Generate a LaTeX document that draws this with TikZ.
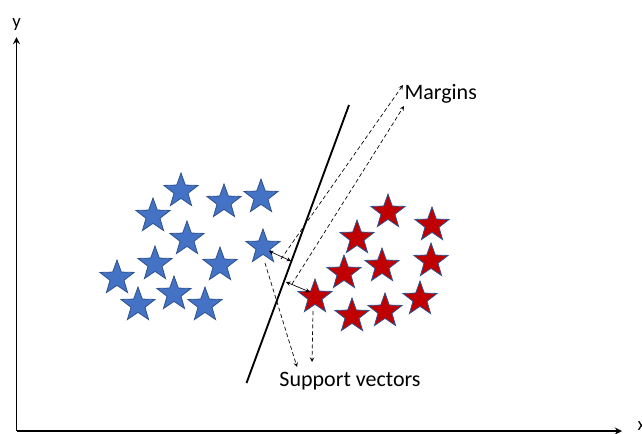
\documentclass[tikz,border=0pt]{standalone}
\usepackage{fontspec}
\setmainfont{Carlito}
\usetikzlibrary{shapes.geometric, positioning, calc}

\begin{document}
\begin{tikzpicture}[x=0.75pt, y=-0.75pt,
  estrela/.style={star, star points=5, star point ratio=2.45, minimum size=27pt, inner sep=0pt, draw=contorno, line width=0.6pt},
  classeA/.style={estrela, fill=azul},
  classeB/.style={estrela, fill=vermelho},
  rotulo/.style={font=\fontsize{16.5}{19}\selectfont, inner sep=1pt}]
% --- DUAS CLASSES, HIPERPLANO E MARGENS ---
\definecolor{azul}{HTML}{4472C4}
\definecolor{vermelho}{HTML}{C00000}
\definecolor{contorno}{HTML}{2F528F}

\useasboundingbox (0,0) rectangle (642,433);

% LAYER 1: Eixos
\coordinate (origem) at (16.5,431);
\draw[->, >=stealth, line width=1.4pt] (origem) -- (16.5,37) node[above=1pt, font=\fontsize{14}{16}\selectfont] (ylab) {y};
\draw[->, >=stealth, line width=1.4pt] (origem) -- (622,431);
\node[font=\fontsize{14}{16}\selectfont, anchor=west] (xlab) at (633,426) {x};

% LAYER 2: Classe azul
\node[classeA] (a1) at (181,191) {};
\node[classeA] (a2) at (153,216) {};
\node[classeA] (a3) at (224,202) {};
\node[classeA] (a4) at (261,197) {};
\node[classeA] (a5) at (187,239) {};
\node[classeA] (a6) at (155,264) {};
\node[classeA] (a7) at (220,265) {};
\node[classeA] (a8) at (263,247) {};
\node[classeA] (a9) at (117,278) {};
\node[classeA] (a10) at (138,305) {};
\node[classeA] (a11) at (174,294) {};
\node[classeA] (a12) at (205,305) {};

% LAYER 3: Classe vermelha
\node[classeB] (v1) at (388,212) {};
\node[classeB] (v2) at (432,225) {};
\node[classeB] (v3) at (357,238) {};
\node[classeB] (v4) at (382,266) {};
\node[classeB] (v5) at (431,261) {};
\node[classeB] (v6) at (344,273) {};
\node[classeB] (v7) at (315,297) {};
\node[classeB] (v8) at (352,316) {};
\node[classeB] (v9) at (385,311) {};
\node[classeB] (v10) at (420,299) {};

% LAYER 4: Hiperplano
\coordinate (h1) at (246.5,383);
\coordinate (h2) at (349,105);
\draw[line width=1.4pt] (h1) -- (h2);

% LAYER 5: Rotulos
\node[rotulo, anchor=west] (margens) at (403,94) {Margins};
\node[rotulo] (suporte) at (350,381) {Support vectors};

% LAYER 6: Margens (setas tracejadas)
\coordinate (m1) at (281,259);
\coordinate (m2) at (292,284);
\draw[->, >=stealth, densely dashed, line width=0.5pt] (m1) -- (margens.west |- 0,85) coordinate (m1b);
\draw[->, >=stealth, densely dashed, line width=0.5pt] (m2) -- (404,106) coordinate (m2b);

% LAYER 7: Distancias ao hiperplano
\coordinate (d1) at (291,261);
\coordinate (d2) at (286,282);
\draw[<->, >=stealth, line width=0.5pt] ($(a8.center)+(6,4)$) -- (d1);
\draw[<->, >=stealth, line width=0.5pt] (d2) -- ($(v7.center)+(-5,-5)$);

% LAYER 8: Vetores de suporte
\draw[->, >=stealth, densely dashed, line width=0.5pt] ($(a8.center)+(2,16)$) -- (297,367) coordinate (s1);
\draw[->, >=stealth, densely dashed, line width=0.5pt] ($(v7.center)+(-2,14)$) -- (312,362) coordinate (s2);
\end{tikzpicture}
\end{document}
